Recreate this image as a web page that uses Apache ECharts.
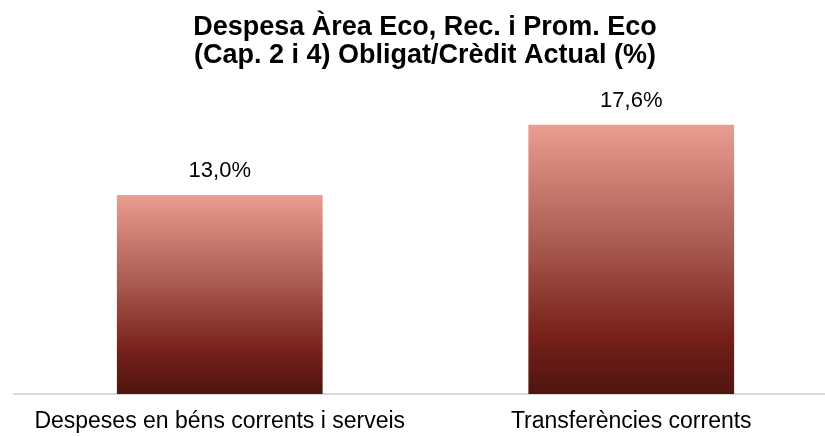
<!DOCTYPE html>
<html>
<head>
<meta charset="utf-8">
<script src="https://cdn.jsdelivr.net/npm/echarts@6/dist/echarts.min.js"></script>
<style>
html,body{margin:0;padding:0;background:#fff;overflow:hidden;}
#wrap{width:825px;height:436px;overflow:hidden;position:relative;}
#c{width:850px;height:436px;position:absolute;left:0;top:0;}
</style>
</head>
<body>
<div id="wrap"><div id="c"></div></div>
<script>
var titleLines = ['Despesa Àrea Eco, Rec. i Prom. Eco', '(Cap. 2 i 4) Obligat/Crèdit Actual (%)'];
var categories = ['Despeses en béns corrents i serveis', 'Transferències corrents'];
var values = [13.0, 17.6];

var chart = echarts.init(document.getElementById('c'), null, {renderer: 'canvas'});
var gradient = new echarts.graphic.LinearGradient(0, 0, 0, 1, [
  {offset: 0, color: '#EA9D91'},
  {offset: 0.45, color: '#A9594F'},
  {offset: 0.78, color: '#77211A'},
  {offset: 1, color: '#4F1410'}
]);
chart.setOption({
  animation: false,
  title: {
    text: titleLines.join('\n'),
    left: 'center',
    top: 9,
    textStyle: {
      fontFamily: "'Liberation Sans', Arial, sans-serif",
      fontWeight: 'bold',
      fontSize: 27,
      lineHeight: 28,
      color: '#000'
    }
  },
  grid: {left: 14, right: 13, top: 88, bottom: 42, containLabel: false},
  xAxis: {
    type: 'category',
    data: categories,
    axisLine: {lineStyle: {color: '#D9D9D9', width: 2}},
    axisTick: {show: false},
    axisLabel: {
      interval: 0,
      margin: 16,
      fontFamily: "'Liberation Sans', Arial, sans-serif",
      fontSize: 23,
      color: '#000'
    }
  },
  yAxis: {
    type: 'value',
    min: 0,
    max: 20,
    show: false,
    splitLine: {show: false}
  },
  series: [{
    type: 'bar',
    data: values,
    barWidth: '50%',
    itemStyle: {color: gradient},
    label: {
      show: true,
      position: 'top',
      distance: 13,
      fontFamily: "'Liberation Sans', Arial, sans-serif",
      fontSize: 22,
      color: '#000',
      formatter: function (p) { return p.value.toFixed(1).replace('.', ',') + '%'; }
    }
  }]
});
</script>
</body>
</html>
